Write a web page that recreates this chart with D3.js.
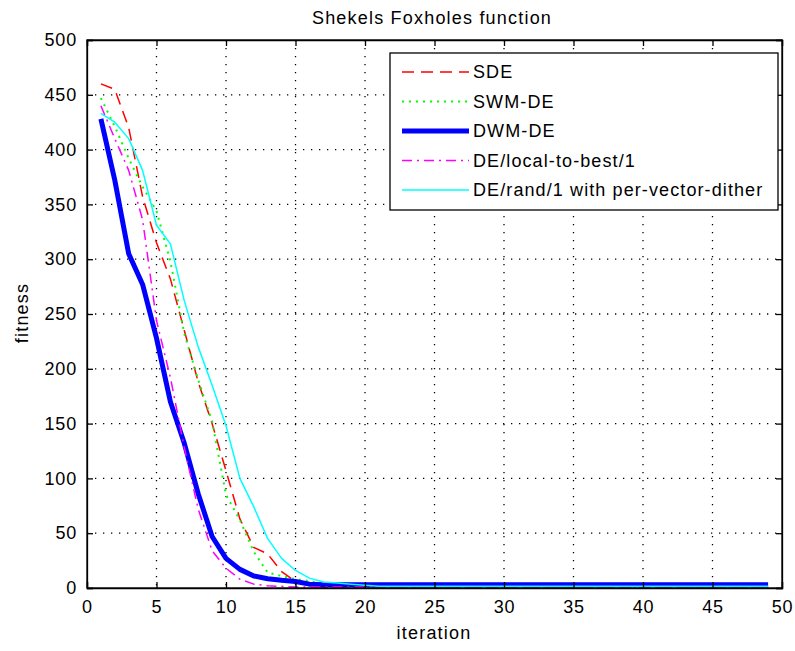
<!DOCTYPE html>
<html><head><meta charset="utf-8">
<script src="https://cdn.jsdelivr.net/npm/d3@7"></script>
<style>body{margin:0;background:#fff}svg text{font-family:"Liberation Sans",Arial,sans-serif}</style>
</head><body><svg id="c" width="795" height="651"></svg>
<script>
const iterations = d3.range(1, 50);
const tail = (n, v) => Array(n).fill(v);
const sde     = [460,455,420,357,315,282,235,188,150,107,63,37,31,15,6,2].concat(tail(33,1));
const swmde   = [447,421,392,366,344,298,232,190,152,85,62,33,14,11,8,6.5,3].concat(tail(32,1));
const dwmde   = [428,372,305,277,228,170,132,86,47,27,17,11,8.5,7,6,3.5].concat(tail(33,3));
const local   = [440,410,381,336,244,192,128,72,34,18,8,3.5,2,1.5].concat(tail(35,1));
const randDither = [433,425,410,381,331,314,262,220,185,148,100,74,45,27,16,9,5.5,4.5,3.5,2.5].concat(tail(29,1.5));
const seriesNames = ["SDE","SWM-DE","DWM-DE","DE/local-to-best/1","DE/rand/1 with per-vector-dither"];
const seriesValues = [sde, swmde, dwmde, local, randDither];
const seriesColors = ["#ff0000","#00ff00","#0000ff","#ff00ff","#00ffff"];
const seriesWidths = [1.5,2,5,1.5,1.5];
const seriesDash = ["12,7","2,5","","10,5,2,5",""];
const xTicks = d3.range(0, 51, 5);
const yTicks = d3.range(0, 501, 50);

const svg = d3.select("#c");
const L=87, R=782, T=40, B=588;
const x = d3.scaleLinear().domain([0,50]).range([L,R]);
const y = d3.scaleLinear().domain([0,500]).range([B,T]);

// grid
const g = svg.append("g");
g.selectAll(".gx").data(xTicks.slice(1,-1)).join("line")
 .attr("x1",d=>x(d)).attr("x2",d=>x(d)).attr("y1",T).attr("y2",B)
 .attr("stroke","#000").attr("stroke-width",1.3).attr("stroke-dasharray","1.3,6.7");
g.selectAll(".gy").data(yTicks.slice(1,-1)).join("line")
 .attr("y1",d=>y(d)).attr("y2",d=>y(d)).attr("x1",L).attr("x2",R)
 .attr("stroke","#000").attr("stroke-width",1.3).attr("stroke-dasharray","1.3,6.7");

// series
const line = d3.line().x((d,i)=>x(iterations[i])).y(d=>y(d));
seriesValues.forEach((vals,k)=>{
  svg.append("path").attr("d",line(vals)).attr("fill","none")
   .attr("stroke",seriesColors[k]).attr("stroke-width",seriesWidths[k])
   .attr("stroke-dasharray",seriesDash[k]||null).attr("stroke-linejoin","round");
});

// axes
const fs = 18;
const ax = svg.append("g").attr("transform",`translate(0,${B})`).call(d3.axisBottom(x).tickValues(xTicks).tickSize(-6).tickPadding(12));
const axT = svg.append("g").attr("transform",`translate(0,${T})`).call(d3.axisTop(x).tickValues(xTicks).tickSize(-6).tickFormat(""));
const ay = svg.append("g").attr("transform",`translate(${L},0)`).call(d3.axisLeft(y).tickValues(yTicks).tickSize(-6).tickPadding(10));
const ayR = svg.append("g").attr("transform",`translate(${R},0)`).call(d3.axisRight(y).tickValues(yTicks).tickSize(-6).tickFormat(""));
[ax,axT,ay,ayR].forEach(a=>{a.select(".domain").attr("stroke","#000").attr("stroke-width",1.3);
  a.selectAll(".tick line").attr("stroke","#000").attr("stroke-width",1.3);
  a.selectAll("text").attr("font-size",fs).attr("fill","#000").attr("letter-spacing","0.8px").attr("font-family","Liberation Sans, Arial");});
svg.append("rect").attr("x",L).attr("y",T).attr("width",R-L).attr("height",B-T).attr("fill","none").attr("stroke","#000").attr("stroke-width",1.3);

// labels
const ls = "1.2px";
svg.append("text").attr("x",432).attr("y",24).attr("text-anchor","middle").attr("font-size",fs).attr("letter-spacing",ls).text("Shekels Foxholes function");
svg.append("text").attr("x",434).attr("y",639).attr("text-anchor","middle").attr("font-size",fs).attr("letter-spacing",ls).text("iteration");
svg.append("text").attr("transform","translate(28,313) rotate(-90)").attr("text-anchor","middle").attr("font-size",fs).attr("letter-spacing",ls).text("fitness");

// legend
const lg = svg.append("g");
lg.append("rect").attr("x",390).attr("y",53).attr("width",388).attr("height",157).attr("fill","#fff").attr("stroke","#000").attr("stroke-width",1.3);
seriesNames.forEach((n,k)=>{
  const yy = 72 + k*29.5;
  lg.append("line").attr("x1",402).attr("x2",469).attr("y1",yy).attr("y2",yy)
   .attr("stroke",seriesColors[k]).attr("stroke-width",seriesWidths[k]).attr("stroke-dasharray",seriesDash[k]||null);
  lg.append("text").attr("x",473).attr("y",yy+6).attr("font-size",fs).attr("letter-spacing","1.1px").text(n);
});
</script></body></html>
